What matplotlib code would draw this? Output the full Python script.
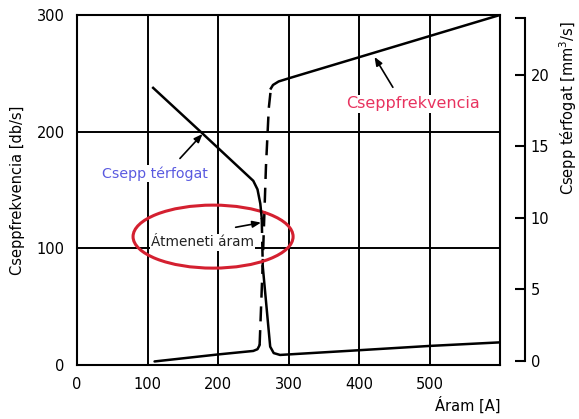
import matplotlib.pyplot as plt
from matplotlib.patches import Ellipse

# Cseppfrekvencia [db/s] (bal tengely)
freq_low_i = [110, 200, 250, 256, 259]
freq_low_y = [3, 9, 12, 13.5, 17]
freq_dash_i = [259, 263, 268, 272, 275]
freq_dash_y = [17, 80, 170, 220, 237]
freq_high_i = [275, 278, 286, 302, 600]
freq_high_y = [237, 240, 243, 246, 300]

# Csepp térfogat [mm3/s] (jobb tengely)
vol_i = [108, 176, 250, 256, 260, 262]
vol_v = [19.1, 16.0, 12.6, 12.0, 11.0, 10.0]
vol_dash_i = [262, 263.5]
vol_dash_v = [10.0, 6.6]
vol_low_i = [263.5, 274, 279, 288, 400, 500, 600]
vol_low_v = [6.6, 1.0, 0.55, 0.42, 0.75, 1.05, 1.3]

x_ticks = [0, 100, 200, 300, 400, 500]
y_ticks = [0, 100, 200, 300]
y2_ticks = [0, 5, 10, 15, 20]

fig = plt.figure(figsize=(5.79, 4.19), dpi=100)
ax = fig.add_axes([0.133, 0.129, 0.7306, 0.8353])

ax.set_xlim(0, 600)
ax.set_ylim(0, 300)
ax.set_xticks(x_ticks)
ax.set_yticks(y_ticks)
ax.grid(True, color='black', lw=1.4)
ax.set_axisbelow(True)
for s in ax.spines.values():
    s.set_linewidth(1.5)
ax.tick_params(length=0, labelsize=10.5, pad=9)

ax.plot(freq_low_i, freq_low_y, color='black', lw=1.8, solid_capstyle='round')
ax.plot(freq_dash_i, freq_dash_y, color='black', lw=1.8, dashes=(6, 3.5))
ax.plot(freq_high_i, freq_high_y, color='black', lw=1.8)

ax2 = ax.twinx()
ax2.set_ylim(-0.28, 24.2)
ax2.plot(vol_i, vol_v, color='black', lw=1.8)
ax2.plot(vol_dash_i, vol_dash_v, color='black', lw=1.8, dashes=(6, 3.5))
ax2.plot(vol_low_i, vol_low_v, color='black', lw=1.8)
ax2.set_yticks(y2_ticks)
ax2.set_yticks([24], minor=True)
for k in ['top', 'left', 'bottom']:
    ax2.spines[k].set_visible(False)
ax2.spines['right'].set_position(('outward', 18))
ax2.spines['right'].set_bounds(0, 24)
ax2.spines['right'].set_linewidth(1.5)
ax2.tick_params(axis='y', which='both', direction='in', length=7, width=1.5, labelsize=10.5, pad=4)

nyil = dict(arrowstyle='-|>,head_length=0.5,head_width=0.2', color='black', lw=1.2,
            shrinkA=0, shrinkB=0)

# feliratok
ax.text(477, 224, 'Cseppfrekvencia', color='#e8335f', fontsize=11.5, ha='center', va='center',
        bbox=dict(facecolor='white', edgecolor='none', pad=1))
ax.annotate('', xy=(422, 264), xytext=(448, 238), arrowprops=nyil)

ax.text(111, 164, 'Csepp térfogat', color='#5a5ae0', fontsize=10.3, ha='center', va='center',
        bbox=dict(facecolor='white', edgecolor='none', pad=1))
ax.annotate('', xy=(178, 198), xytext=(146, 177), arrowprops=nyil)

ax.text(178, 105, 'Átmeneti áram', color='#222222', fontsize=9.8, ha='center', va='center',
        bbox=dict(facecolor='white', edgecolor='none', pad=1))
ax.annotate('', xy=(261, 122), xytext=(225, 118), arrowprops=nyil)

ax.add_patch(Ellipse((193, 110), 227, 54, fill=False, edgecolor='#d42030', lw=2.2, zorder=5))

fig.text(18 / 579, 1 - 190 / 419, 'Cseppfrekvencia [db/s]', rotation=90, ha='center', va='center', fontsize=10.5)
fig.text(568 / 579, 1 - 108 / 419, 'Csepp térfogat [mm$^3$/s]', rotation=90, ha='center', va='center', fontsize=10.5)
fig.text(468 / 579, 1 - 405 / 419, 'Áram [A]', ha='center', va='center', fontsize=10.5)

plt.savefig('out.png', dpi=100)
